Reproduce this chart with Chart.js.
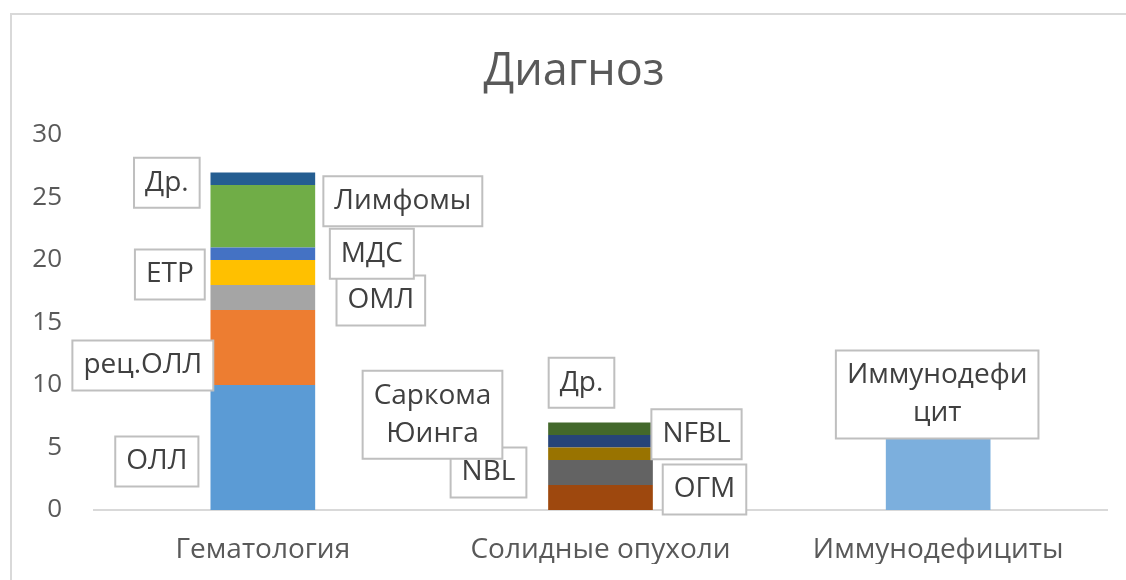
<!DOCTYPE html>
<html>
<head>
<meta charset="utf-8">
<script src="https://cdn.jsdelivr.net/npm/chart.js@4"></script>
<style>
  html, body { margin: 0; padding: 0; background: #fff; }
  #wrap { position: relative; width: 1126px; height: 580px; }
</style>
</head>
<body>
<div id="wrap"><canvas id="chart" width="1126" height="580"></canvas></div>
<script>
// data
const categories = ['Гематология', 'Солидные опухоли', 'Иммунодефициты']
const hemaSeries = ['ОЛЛ', 'рец.ОЛЛ', 'ОМЛ', 'ETP', 'МДС', 'Лимфомы', 'Др.']
const hemaValues = [10, 6, 2, 2, 1, 5, 1]
const solidSeries = ['ОГМ', 'NBL', 'Саркома Юинга', 'NFBL', 'Др.']
const solidValues = [2, 2, 1, 1, 1]
const immunoSeries = ['Иммунодефицит']
const immunoValues = [6]
const yMax = 30
const yStep = 5
const chartTitle = 'Диагноз'

// styles
const hemaColors = ['#5b9bd5', '#ed7d31', '#a5a5a5', '#ffc000', '#4472c4', '#70ad47', '#255e91']
const solidColors = ['#9e480e', '#636363', '#997300', '#264478', '#43682b']
const immunoColors = ['#7cafdd']
// label box offsets (px) from the centre of each segment
const hemaOffsets = [[-106, 14], [-120, 18], [118, 3], [-93, 2], [109, 0], [140, -15], [-96, 4]]
const solidOffsets = [[104, -8], [-112, 0], [-168, -39], [96, -7], [-19, -46]]
const immunoOffsets = [[-1, -78]]
const labelWrap = { 'Саркома Юинга': ['Саркома', 'Юинга'], 'Иммунодефицит': ['Иммунодефи', 'цит'] }

const FONT = "'Open Sans', sans-serif"

const datasets = []
function addGroup(names, values, colors, offsets, catIndex) {
    names.forEach((name, i) => {
        const data = categories.map((c, k) => k === catIndex ? values[i] : null)
        datasets.push({
            label: name,
            data: data,
            backgroundColor: colors[i],
            borderWidth: 0,
            barPercentage: 0.31,
            categoryPercentage: 1,
            labelOffset: offsets[i],
            catIndex: catIndex
        })
    })
}
addGroup(hemaSeries, hemaValues, hemaColors, hemaOffsets, 0)
addGroup(solidSeries, solidValues, solidColors, solidOffsets, 1)
addGroup(immunoSeries, immunoValues, immunoColors, immunoOffsets, 2)

// chart frame and title (the frame runs past the right and bottom edges, so the title sits right of centre)
const frame = {
    id: 'frame',
    beforeDraw(chart) {
        const ctx = chart.ctx
        ctx.save()
        ctx.fillStyle = '#fff'
        ctx.fillRect(0, 0, chart.width, chart.height)
        ctx.strokeStyle = '#d9d9d9'
        ctx.lineWidth = 2
        ctx.strokeRect(11, 14, chart.width + 20, chart.height + 20)
        ctx.fillStyle = '#595959'
        ctx.font = '45px ' + FONT
        ctx.textAlign = 'center'
        ctx.textBaseline = 'middle'
        ctx.fillText(chartTitle, 574, 72)
        ctx.restore()
    }
}

const boxLabels = {
    id: 'boxLabels',
    afterDatasetsDraw(chart) {
        const ctx = chart.ctx
        ctx.save()
        ctx.font = '28px ' + FONT
        ctx.textAlign = 'center'
        ctx.textBaseline = 'middle'
        const lineH = 38
        chart.data.datasets.forEach((ds, i) => {
            const el = chart.getDatasetMeta(i).data[ds.catIndex]
            if (!el) return
            const cx = el.x + ds.labelOffset[0]
            const cy = (el.y + el.base) / 2 + ds.labelOffset[1]
            const lines = labelWrap[ds.label] || [ds.label]
            const w = Math.max(...lines.map(l => ctx.measureText(l).width)) + 22
            const h = lines.length * lineH + 12
            ctx.fillStyle = '#fff'
            ctx.fillRect(cx - w / 2, cy - h / 2, w, h)
            ctx.strokeStyle = '#bfbfbf'
            ctx.lineWidth = 2
            ctx.strokeRect(cx - w / 2, cy - h / 2, w, h)
            ctx.fillStyle = '#404040'
            lines.forEach((l, k) => {
                ctx.fillText(l, cx, cy - h / 2 + 6 + lineH * (k + 0.5))
            })
        })
        ctx.restore()
    }
}

new Chart(document.getElementById('chart'), {
    type: 'bar',
    data: { labels: categories, datasets: datasets },
    options: {
        responsive: false,
        animation: false,
        layout: { padding: { left: 0, right: 19, top: 135, bottom: 16 } },
        plugins: {
            legend: { display: false },
            tooltip: { enabled: false },
            title: { display: false }
        },
        scales: {
            x: {
                stacked: true,
                afterFit(scale) { scale.height = 54 },
                grid: { display: false, drawTicks: false },
                border: { display: true, color: '#d9d9d9', width: 2 },
                ticks: { color: '#595959', font: { family: FONT, size: 28, lineHeight: 1.2 }, padding: 23, maxRotation: 0 }
            },
            y: {
                stacked: true,
                min: 0,
                max: yMax,
                afterFit(scale) { scale.width = 94 },
                grid: { display: false, drawTicks: false },
                border: { display: false },
                ticks: { stepSize: yStep, color: '#595959', font: { family: FONT, size: 26 }, padding: 32 }
            }
        }
    },
    plugins: [frame, boxLabels]
})
</script>
</body>
</html>
